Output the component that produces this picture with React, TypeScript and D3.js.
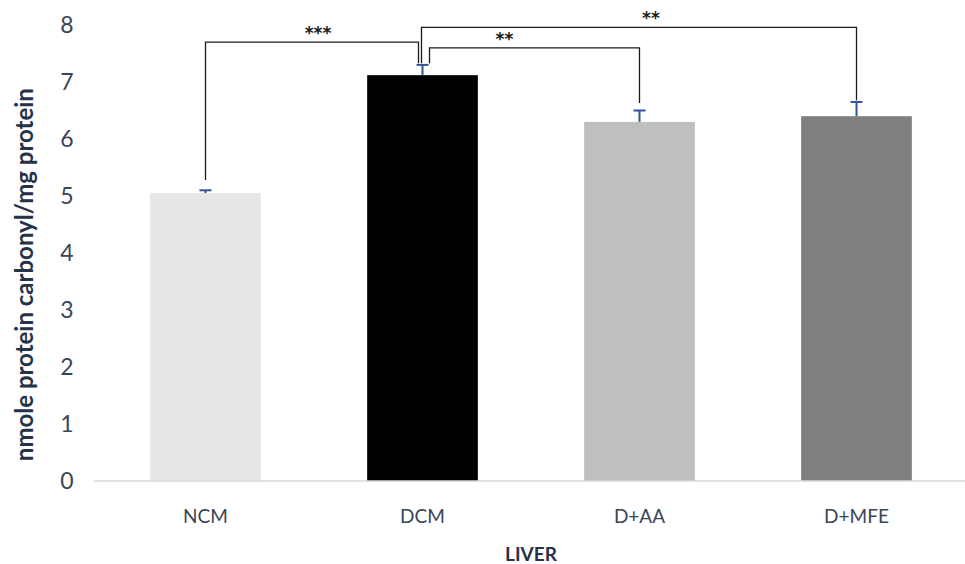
// Liver protein carbonyl bar chart with significance brackets
import { useEffect, useRef } from 'react';
import * as d3 from 'd3';

const categories = ['NCM', 'DCM', 'D+AA', 'D+MFE'];
const means = [5.05, 7.12, 6.3, 6.4];
const errors = [0.05, 0.18, 0.2, 0.25];
const barColors = ['#e7e6e6', '#000000', '#bfbfbf', '#7f7f7f'];
const yTicks = [0, 1, 2, 3, 4, 5, 6, 7, 8];

// significance comparisons: [from, to, bracket height, left leg end, right leg end, label]
const bracketFrom = ['NCM', 'DCM', 'DCM'];
const bracketTo = ['DCM', 'D+MFE', 'D+AA'];
const bracketTop = [7.7, 7.96, 7.6];
const bracketLeftEnd = [5.28, 7.33, 7.33];
const bracketRightEnd = [7.33, 6.68, 6.63];
const bracketLabels = ['***', '**', '**'];

const W = 965;
const H = 564;

const App = () => {
  const svgRef = useRef<SVGSVGElement>(null);

  useEffect(() => {
    if (!svgRef.current) return;
    const svg = d3.select(svgRef.current);
    svg.selectAll('*').remove();

    const font = 'Lato, "Open Sans", sans-serif';
    const textColor = '#3a4556';

    const x = d3.scaleBand<string>()
      .domain(categories)
      .range([97, 965])
      .paddingInner(0.49)
      .paddingOuter(0.245);

    const y = d3.scaleLinear().domain([0, 8]).range([481, 25]);
    const cx = (c: string) => (x(c) || 0) + x.bandwidth() / 2;

    // bars
    svg.append('g')
      .selectAll('rect')
      .data(categories)
      .enter().append('rect')
      .attr('x', d => x(d) || 0)
      .attr('y', (d, i) => y(means[i]))
      .attr('width', x.bandwidth())
      .attr('height', (d, i) => y(0) - y(means[i]))
      .attr('fill', (d, i) => barColors[i]);

    // x axis line
    svg.append('line')
      .attr('x1', 94).attr('x2', 965)
      .attr('y1', y(0)).attr('y2', y(0))
      .attr('stroke', '#d9d9d9')
      .attr('stroke-width', 1.5);

    // error bars (plus only)
    const eb = svg.append('g').attr('stroke', '#2f5597').attr('stroke-width', 2);
    categories.forEach((c, i) => {
      const top = y(means[i] + errors[i]);
      eb.append('line')
        .attr('x1', cx(c)).attr('x2', cx(c))
        .attr('y1', y(means[i])).attr('y2', top);
      eb.append('line')
        .attr('x1', cx(c) - 6).attr('x2', cx(c) + 6)
        .attr('y1', top).attr('y2', top);
    });

    // significance brackets
    const legOffset = (c: string, side: 'l' | 'r', k: number) => {
      if (c !== 'DCM') return 0;
      if (side === 'r') return -4;
      return k === 1 ? -1 : 7;
    };
    const br = svg.append('g');
    bracketFrom.forEach((from, k) => {
      const x1 = cx(from) + legOffset(from, 'l', k);
      const x2 = cx(bracketTo[k]) + legOffset(bracketTo[k], 'r', k);
      const yt = y(bracketTop[k]);
      br.append('path')
        .attr('d', `M${x1},${y(bracketLeftEnd[k])}V${yt}H${x2}V${y(bracketRightEnd[k])}`)
        .attr('fill', 'none')
        .attr('stroke', '#1a1a1a')
        .attr('stroke-width', 1.3);
      br.append('text')
        .attr('x', (x1 + x2) / 2 + (k === 0 ? 6 : k === 1 ? 12 : -30))
        .attr('y', yt - 3)
        .attr('text-anchor', 'middle')
        .attr('font-family', 'DejaVu Sans, sans-serif')
        .attr('font-size', 17)
        .attr('font-weight', 'bold')
        .attr('fill', '#1a1a1a')
        .text(bracketLabels[k]);
    });

    // y tick labels
    svg.append('g')
      .selectAll('text')
      .data(yTicks)
      .enter().append('text')
      .attr('x', 67)
      .attr('y', d => y(d))
      .attr('dy', '0.35em')
      .attr('text-anchor', 'middle')
      .attr('font-family', font)
      .attr('font-size', 23)
      .attr('fill', textColor)
      .text(d => d);

    // x tick labels
    svg.append('g')
      .selectAll('text')
      .data(categories)
      .enter().append('text')
      .attr('x', d => cx(d))
      .attr('y', 523)
      .attr('text-anchor', 'middle')
      .attr('font-family', font)
      .attr('font-size', 19)
      .attr('fill', textColor)
      .text(d => d);

    // axis titles
    svg.append('text')
      .attr('x', 531)
      .attr('y', 561)
      .attr('text-anchor', 'middle')
      .attr('font-family', font)
      .attr('font-size', 19)
      .attr('font-weight', 'bold')
      .attr('fill', '#263248')
      .text('LIVER');

    svg.append('text')
      .attr('transform', `translate(33,${y(3.62)}) rotate(-90)`)
      .attr('text-anchor', 'middle')
      .attr('font-family', font)
      .attr('font-size', 24)
      .attr('font-weight', 'bold')
      .attr('fill', '#263248')
      .text('nmole protein carbonyl/mg protein');
  }, []);

  return (
    <svg
      ref={svgRef}
      width={W}
      height={H}
      style={{ position: 'absolute', left: 0, top: 0, background: '#fff' }}
    />
  );
};

export default App;
